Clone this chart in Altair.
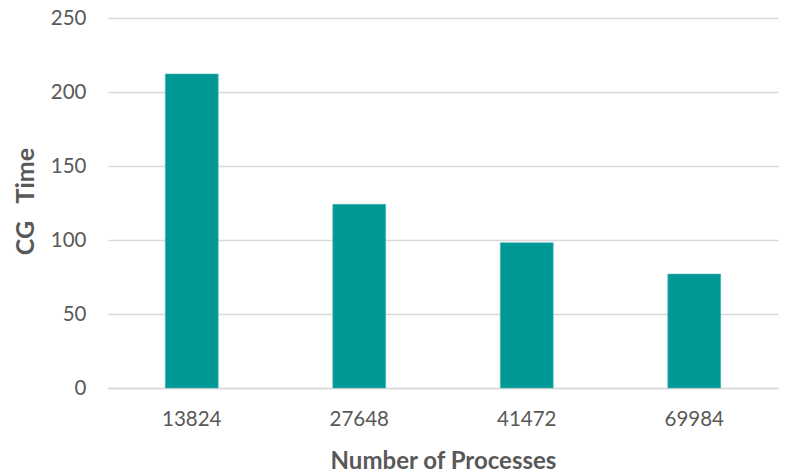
import altair as alt
import pandas as pd

processes = ["13824", "27648", "41472", "69984"]
cg_time = [212.2, 124.1, 98.2, 77.0]

df = pd.DataFrame({"processes": processes, "cg_time": cg_time})

FONT = "Lato"
TXT = "#595959"

chart = alt.Chart(df).mark_bar(color="#009895", stroke="#4dbcb8", strokeWidth=0.6).encode(
    x=alt.X("processes:N", sort=processes,
            scale=alt.Scale(paddingInner=0.684, paddingOuter=0.342),
            axis=alt.Axis(title="Number of Processes", labelAngle=0, ticks=False,
                          domain=True, domainColor="#d9d9d9", domainWidth=1.3,
                          labelFont=FONT, labelFontSize=20.5, labelColor=TXT, labelPadding=21,
                          titleFont=FONT, titleFontSize=24, titleFontWeight="bold", titleColor=TXT,
                          titleY=80, titleBaseline="alphabetic")),
    y=alt.Y("cg_time:Q", scale=alt.Scale(domain=[0, 250], nice=False),
            axis=alt.Axis(title="CG\u00a0\u00a0\u00a0Time", values=[0, 50, 100, 150, 200, 250], ticks=False,
                          domain=False, grid=True, gridColor="#d9d9d9", gridWidth=1.3,
                          labelFont=FONT, labelFontSize=20.5, labelColor=TXT, labelPadding=22,
                          titleFont=FONT, titleFontSize=25, titleFontWeight="bold", titleColor=TXT,
                          titleX=-75, titleY=183, titleAlign="center", titleAngle=-90,
                          titleBaseline="alphabetic")),
).properties(
    width=670, height=370,
    background="white",
    autosize=alt.AutoSizeParams(type="none"),
    padding={"left": 108, "top": 18, "right": 7, "bottom": 85},
).configure_view(stroke=None)

chart.save("out.html", embed_options={"renderer": "svg", "actions": False})
